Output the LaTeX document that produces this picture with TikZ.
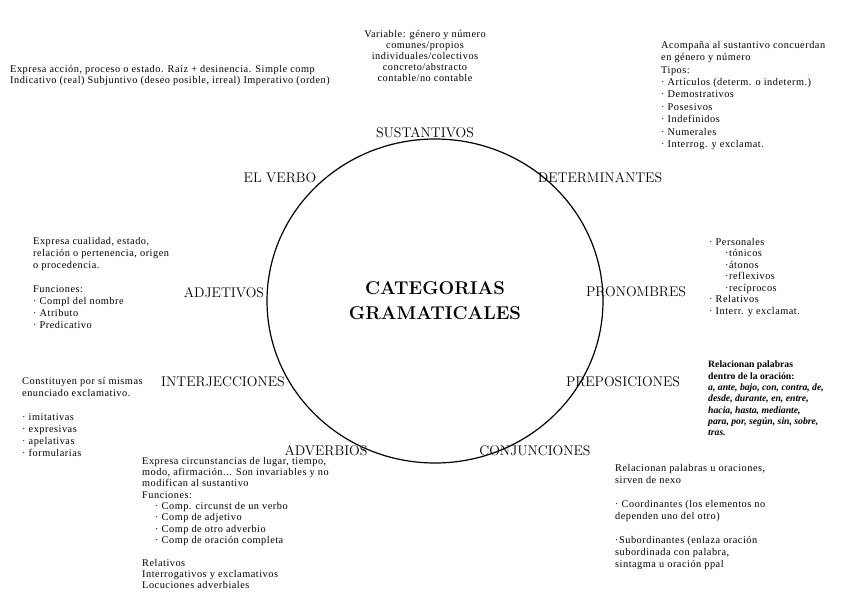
\documentclass[tikz,border=0pt]{standalone}
\usepackage{fontspec}
\newfontfamily\notefont[LetterSpace=5]{Liberation Serif}
\newfontfamily\notebold{Liberation Serif}
\usetikzlibrary{shapes.geometric}

\tikzset{
  categoria/.style={font=\fontsize{14}{16}\selectfont, inner sep=0pt},
  nota/.style={font=\notefont\fontsize{10.3}{#1}\selectfont, align=left, anchor=north west, inner sep=0pt},
  nota/.default=12,
}

\begin{document}
\begin{tikzpicture}[x=1pt, y=-1pt]
    \useasboundingbox (0,0) rectangle (848,599);
    % Centro
    \node (centro) [draw, ellipse, line width=1.2pt, minimum width=336pt, minimum height=324pt, align=center,
      font=\fontsize{18.5}{25}\selectfont\bfseries] at (435,301) {CATEGORIAS\\GRAMATICALES};

    % Categorias
    \node (sust) [categoria] at (425,133) {SUSTANTIVOS};
    \node (det) [categoria] at (600,178) {DETERMINANTES};
    \node (verbo) [categoria] at (280,178) {EL VERBO};
    \node (adj) [categoria] at (224,293) {ADJETIVOS};
    \node (pron) [categoria] at (636,292) {PRONOMBRES};
    \node (interj) [categoria] at (223,382) {INTERJECCIONES};
    \node (prep) [categoria] at (623,382) {PREPOSICIONES};
    \node (adv) [categoria] at (326,451) {ADVERBIOS};
    \node (conj) [categoria] at (535,451) {CONJUNCIONES};

    % Notas
    \node (nverbo) [nota=11] at (10,65) {Expresa acción, proceso o estado. Raíz + desinencia. Simple comp\\
      Indicativo (real) Subjuntivo (deseo posible, irreal) Imperativo (orden)};
    \node (nsust) [nota=11, align=center, anchor=north] at (425,30) {Variable: género y número\\
      comunes/propios\\individuales/colectivos\\concreto/abstracto\\contable/no contable};
    \node (ndet) [nota=12.4] at (661,41) {Acompaña al sustantivo concuerdan\\en género y número\\Tipos:\\
      · Artículos (determ. o indeterm.)\\· Demostrativos\\· Posesivos\\· Indefinidos\\
      · Numerales\\· Interrog. y exclamat.};
    \node (nadj) [nota] at (33,237) {Expresa cualidad, estado,\\relación o pertenencia, origen\\
      o procedencia.\\[\baselineskip]Funciones:\\· Compl del nombre\\· Atributo\\· Predicativo};
    \node (npron) [nota=11.5] at (709,238) {· Personales\\\hspace*{16pt}·tónicos\\\hspace*{16pt}·átonos\\
      \hspace*{16pt}·reflexivos\\\hspace*{16pt}·recíprocos\\· Relativos\\· Interr. y exclamat.};
    \node (nprep) [nota, font=\notebold\fontsize{9.7}{11.3}\selectfont\bfseries] at (708,361) {Relacionan palabras\\
      dentro de la oración:\\\itshape a, ante, bajo, con, contra, de,\\\itshape desde, durante, en, entre,\\
      \itshape hacia, hasta, mediante,\\\itshape para, por, según, sin, sobre,\\\itshape tras.};
    \node (ninterj) [nota] at (22,377) {Constituyen por sí mismas\\enunciado exclamativo.\\[\baselineskip]
      · imitativas\\· expresivas\\· apelativas\\· formularias};
    \node (nadv) [nota=11.3] at (142,457) {Expresa circunstancias de lugar, tiempo,\\
      modo, afirmación... Son invariables y no\\modifican al sustantivo\\Funciones:\\
      \hspace*{13pt}· Comp. circunst de un verbo\\\hspace*{13pt}· Comp de adjetivo\\
      \hspace*{13pt}· Comp de otro adverbio\\\hspace*{13pt}· Comp de oración completa\\[\baselineskip]
      Relativos\\Interrogativos y exclamativos\\Locuciones adverbiales};
    \node (nconj) [nota] at (615,464) {Relacionan palabras u oraciones,\\sirven de nexo\\[\baselineskip]
      · Coordinantes (los elementos no\\dependen uno del otro)\\[\baselineskip]
      ·Subordinantes (enlaza oración\\subordinada con palabra,\\sintagma u oración ppal};
\end{tikzpicture}
\end{document}
